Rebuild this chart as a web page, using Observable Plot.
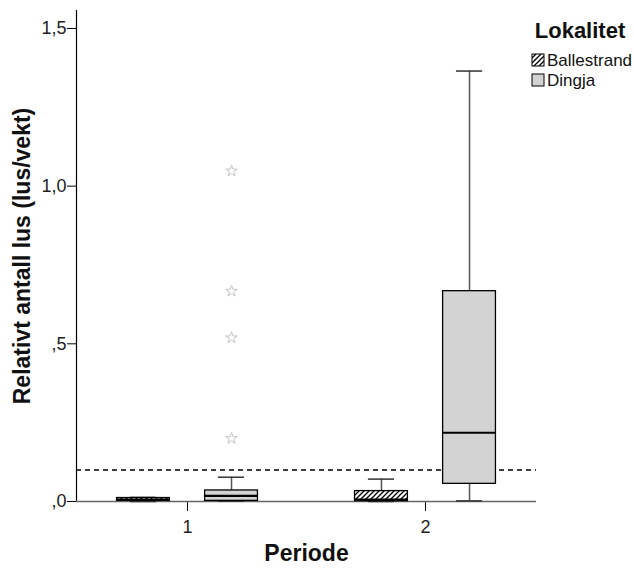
<!DOCTYPE html>
<html>
<head>
<meta charset="utf-8">
<script src="https://cdn.jsdelivr.net/npm/d3@7"></script>
<script src="https://cdn.jsdelivr.net/npm/@observablehq/plot@0.6"></script>
<style>
  body { margin: 0; background: #fff; }
  #chart { width: 634px; height: 570px; }
  svg { font-family: "Liberation Sans", Arial, sans-serif; }
</style>
</head>
<body>
<div id="chart"></div>
<script>
// ---- data ----
const periods = [1, 2];
const periodLabels = ["1", "2"];
const localities = ["Ballestrand", "Dingja"];
const groupPeriod = [1, 1, 2, 2];
const groupLocality = ["Ballestrand", "Dingja", "Ballestrand", "Dingja"];
const whiskerLow = [0.000, 0.001, 0.000, 0.002];
const quart1 = [0.002, 0.002, 0.001, 0.056];
const median = [0.006, 0.018, 0.006, 0.218];
const quart3 = [0.011, 0.035, 0.033, 0.667];
const whiskerHigh = [0.013, 0.077, 0.071, 1.365];
const outlierPeriod = [1, 1, 1, 1];
const outlierLocality = ["Dingja", "Dingja", "Dingja", "Dingja"];
const outlierValue = [1.048, 0.667, 0.519, 0.200];
const threshold = 0.1;
const yTicks = [0, 0.5, 1.0, 1.5];
const yTickLabels = [",0", ",5", "1,0", "1,5"];

// ---- build ----
const boxes = groupPeriod.map((p, i) => ({
  period: p, loc: groupLocality[i], lo: whiskerLow[i], q1: quart1[i],
  med: median[i], q3: quart3[i], hi: whiskerHigh[i]
}));
const outliers = outlierPeriod.map((p, i) => ({period: p, loc: outlierLocality[i], value: outlierValue[i]}));

const dodge = 0.37, boxHalf = 0.111, capHalf = 0.055;
const pos = d => d.period + (localities.indexOf(d.loc) - 0.5) * dodge;
const fillOf = {Ballestrand: "url(#hatch)", Dingja: "#d3d3d3"};

const plot = Plot.plot({
  width: 634,
  height: 570,
  marginLeft: 76,
  marginRight: 98,
  marginTop: 10,
  marginBottom: 69,
  style: {fontFamily: "Liberation Sans, Arial, sans-serif", background: "white"},
  x: {type: "linear", domain: [0.5336, 2.4664], axis: null},
  y: {domain: [0, 1.557], axis: null},
  marks: [
    Plot.axisY({ticks: yTicks, tickFormat: v => yTickLabels[yTicks.indexOf(v)], tickSize: 9, tickPadding: 1, fontSize: 18, label: null, color: "#222", stroke: "black"}),
    Plot.axisX({ticks: periods, tickFormat: v => periodLabels[periods.indexOf(v)], tickSize: 10, tickPadding: 9, fontSize: 18, label: null, color: "#222", stroke: "black"}),
    Plot.ruleX([0.5336], {stroke: "black", strokeWidth: 1.2}),
    Plot.ruleY([0], {stroke: "#666", strokeWidth: 1.5}),
    Plot.ruleY([threshold], {stroke: "black", strokeWidth: 1.5, strokeDasharray: "5,4"}),
    // whiskers
    Plot.ruleX(boxes, {x: pos, y1: "q3", y2: "hi", stroke: "#555", strokeWidth: 1.5}),
    Plot.ruleX(boxes, {x: pos, y1: "lo", y2: "q1", stroke: "#555", strokeWidth: 1.5}),
    Plot.ruleY(boxes, {y: "hi", x1: d => pos(d) - capHalf, x2: d => pos(d) + capHalf, stroke: "#333", strokeWidth: 1.5}),
    Plot.ruleY(boxes, {y: "lo", x1: d => pos(d) - capHalf, x2: d => pos(d) + capHalf, stroke: "#333", strokeWidth: 1.5}),
    // boxes
    ...localities.map(l => Plot.rect(boxes.filter(d => d.loc === l), {
      x1: d => pos(d) - boxHalf, x2: d => pos(d) + boxHalf, y1: "q1", y2: "q3",
      fill: fillOf[l], stroke: "black", strokeWidth: 1.3
    })),
    Plot.ruleY(boxes, {y: "med", x1: d => pos(d) - boxHalf, x2: d => pos(d) + boxHalf, stroke: "black", strokeWidth: 2.2}),
    // outliers
    Plot.dot(outliers, {x: pos, y: "value", symbol: "star", r: 3.6, fill: "none", stroke: "#c4c4c4", strokeWidth: 1}),
    // axis titles
    Plot.text(["Relativt antall lus (lus/vekt)"], {frameAnchor: "left", rotate: -90, dx: -54, fontSize: 23, fontWeight: "bold", fill: "#111", textAnchor: "middle", lineAnchor: "middle"}),
    Plot.text(["Periode"], {frameAnchor: "bottom", dy: 52, fontSize: 23, fontWeight: "bold", fill: "#111", lineAnchor: "middle"})
  ]
});

const svg = d3.select(plot);
const defs = svg.insert("defs", ":first-child");
const pat = defs.append("pattern").attr("id", "hatch").attr("patternUnits", "userSpaceOnUse")
  .attr("width", 5).attr("height", 5);
pat.append("rect").attr("width", 5).attr("height", 5).attr("fill", "white");
pat.append("path").attr("d", "M-1,1 l2,-2 M0,5 l5,-5 M4,6 l2,-2").attr("stroke", "black").attr("stroke-width", 1.3);

// legend
const lg = svg.append("g").attr("font-family", "Liberation Sans, Arial, sans-serif").attr("text-anchor", "start");
lg.append("text").attr("x", 580).attr("y", 38).attr("text-anchor", "middle")
  .attr("font-size", 22).attr("font-weight", "bold").attr("fill", "#111").text("Lokalitet");
localities.forEach((l, i) => {
  const y0 = 54 + i * 20;
  lg.append("rect").attr("x", 532).attr("y", y0).attr("width", 12).attr("height", 12)
    .attr("fill", fillOf[l]).attr("stroke", "black").attr("stroke-width", 1);
  lg.append("text").attr("x", 547).attr("y", y0 + 12).attr("text-anchor", "start")
    .attr("font-size", 17).attr("fill", "#111").text(l);
});

document.getElementById("chart").appendChild(plot);
</script>
</body>
</html>
